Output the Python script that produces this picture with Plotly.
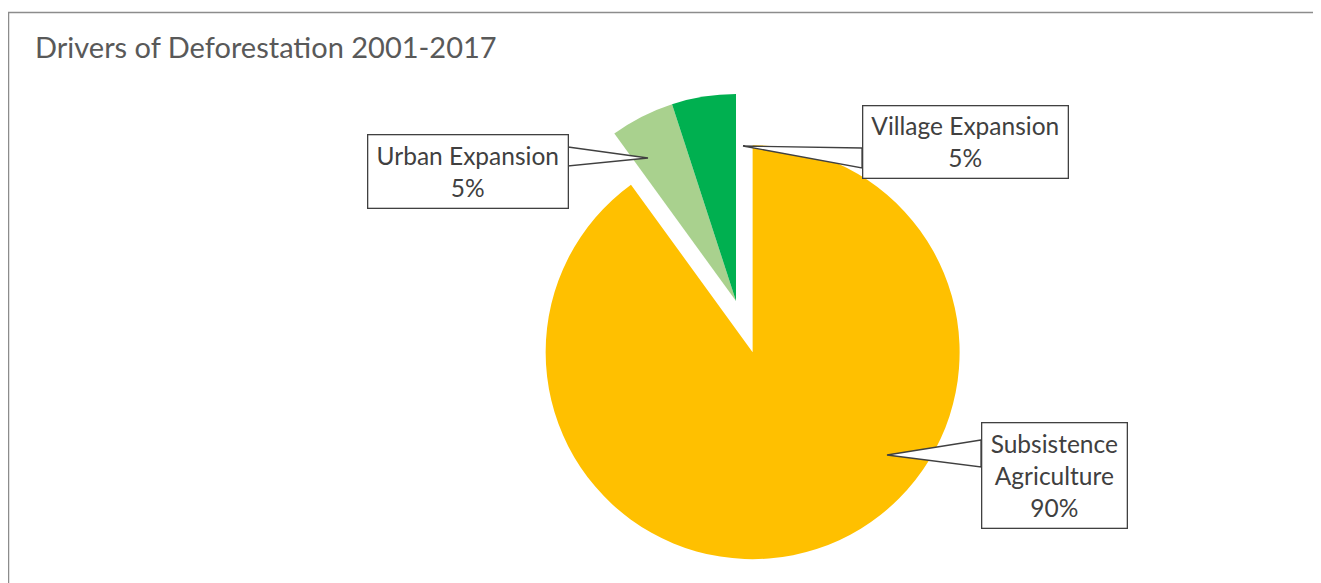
import plotly.graph_objects as go

# ---- data ----
categories = ["Subsistence Agriculture", "Urban Expansion", "Village Expansion"]
shares = [90, 5, 5]
label_texts = ["Subsistence<br>Agriculture<br>90%", "Urban Expansion<br>5%", "Village Expansion<br>5%"]
colors = ["#FFC000", "#A9D18E", "#00B050"]
pulls = [0.26, 0, 0]

W, H = 1321, 583
OFF = 8  # page body margin


def px(x):
    return (x - OFF) / W


def py(y):
    return 1 - (y - OFF) / H


fig = go.Figure()
fig.add_trace(go.Pie(
    labels=categories,
    values=shares,
    sort=False,
    direction="clockwise",
    rotation=0,
    pull=pulls,
    marker=dict(colors=colors, line=dict(width=0)),
    textinfo="none",
    hoverinfo="label+percent",
    showlegend=False,
    domain=dict(x=[px(436), px(1036)], y=[py(561.8), py(40.2)]),
))

# callout layout (reference pixel coords):
# box center x, y, box w, h, wedge tip x, y, wedge base x, base y0, base y1
callouts = [
    (1054, 475, 144, 104, 887, 455, 981, 440, 467),
    (467.5, 171, 199, 72, 648, 158, 568, 147, 166),
    (965, 142.5, 204, 71, 743, 146, 862, 148, 168),
]
for txt, (bx, by, bw, bh, tx, ty, wx, wy0, wy1) in zip(label_texts, callouts):
    path = "M {:.5f} {:.5f} L {:.5f} {:.5f} L {:.5f} {:.5f} Z".format(
        px(wx), py(wy0), px(tx), py(ty), px(wx), py(wy1))
    fig.add_shape(type="path", xref="paper", yref="paper", path=path,
                  line=dict(color="#404040", width=1.3), fillcolor="white", layer="above")
    fig.add_annotation(
        x=px(bx), y=py(by), xref="paper", yref="paper",
        xanchor="center", yanchor="middle",
        text=txt, showarrow=False,
        font=dict(family="Lato, Open Sans, sans-serif", size=24.5, color="#404040"),
        bgcolor="white", bordercolor="#404040", borderwidth=1.3, borderpad=0,
        width=bw, height=bh, align="center", valign="middle",
    )

# outer chart border
fig.add_shape(type="rect", xref="paper", yref="paper",
              x0=px(8.5), y0=-0.05, x1=1.05, y1=py(12.5),
              line=dict(color="#8C8C8C", width=1.5), fillcolor="rgba(0,0,0,0)")

fig.update_layout(
    width=W, height=H,
    margin=dict(l=0, r=0, t=0, b=0),
    paper_bgcolor="white", plot_bgcolor="white",
    title=dict(text="Drivers of Deforestation 2001-2017", x=px(35), xanchor="left",
               y=py(48), yanchor="middle", yref="paper",
               font=dict(family="Lato, Open Sans, sans-serif", size=29, color="#595959")),
)

fig.write_html("out.html")
